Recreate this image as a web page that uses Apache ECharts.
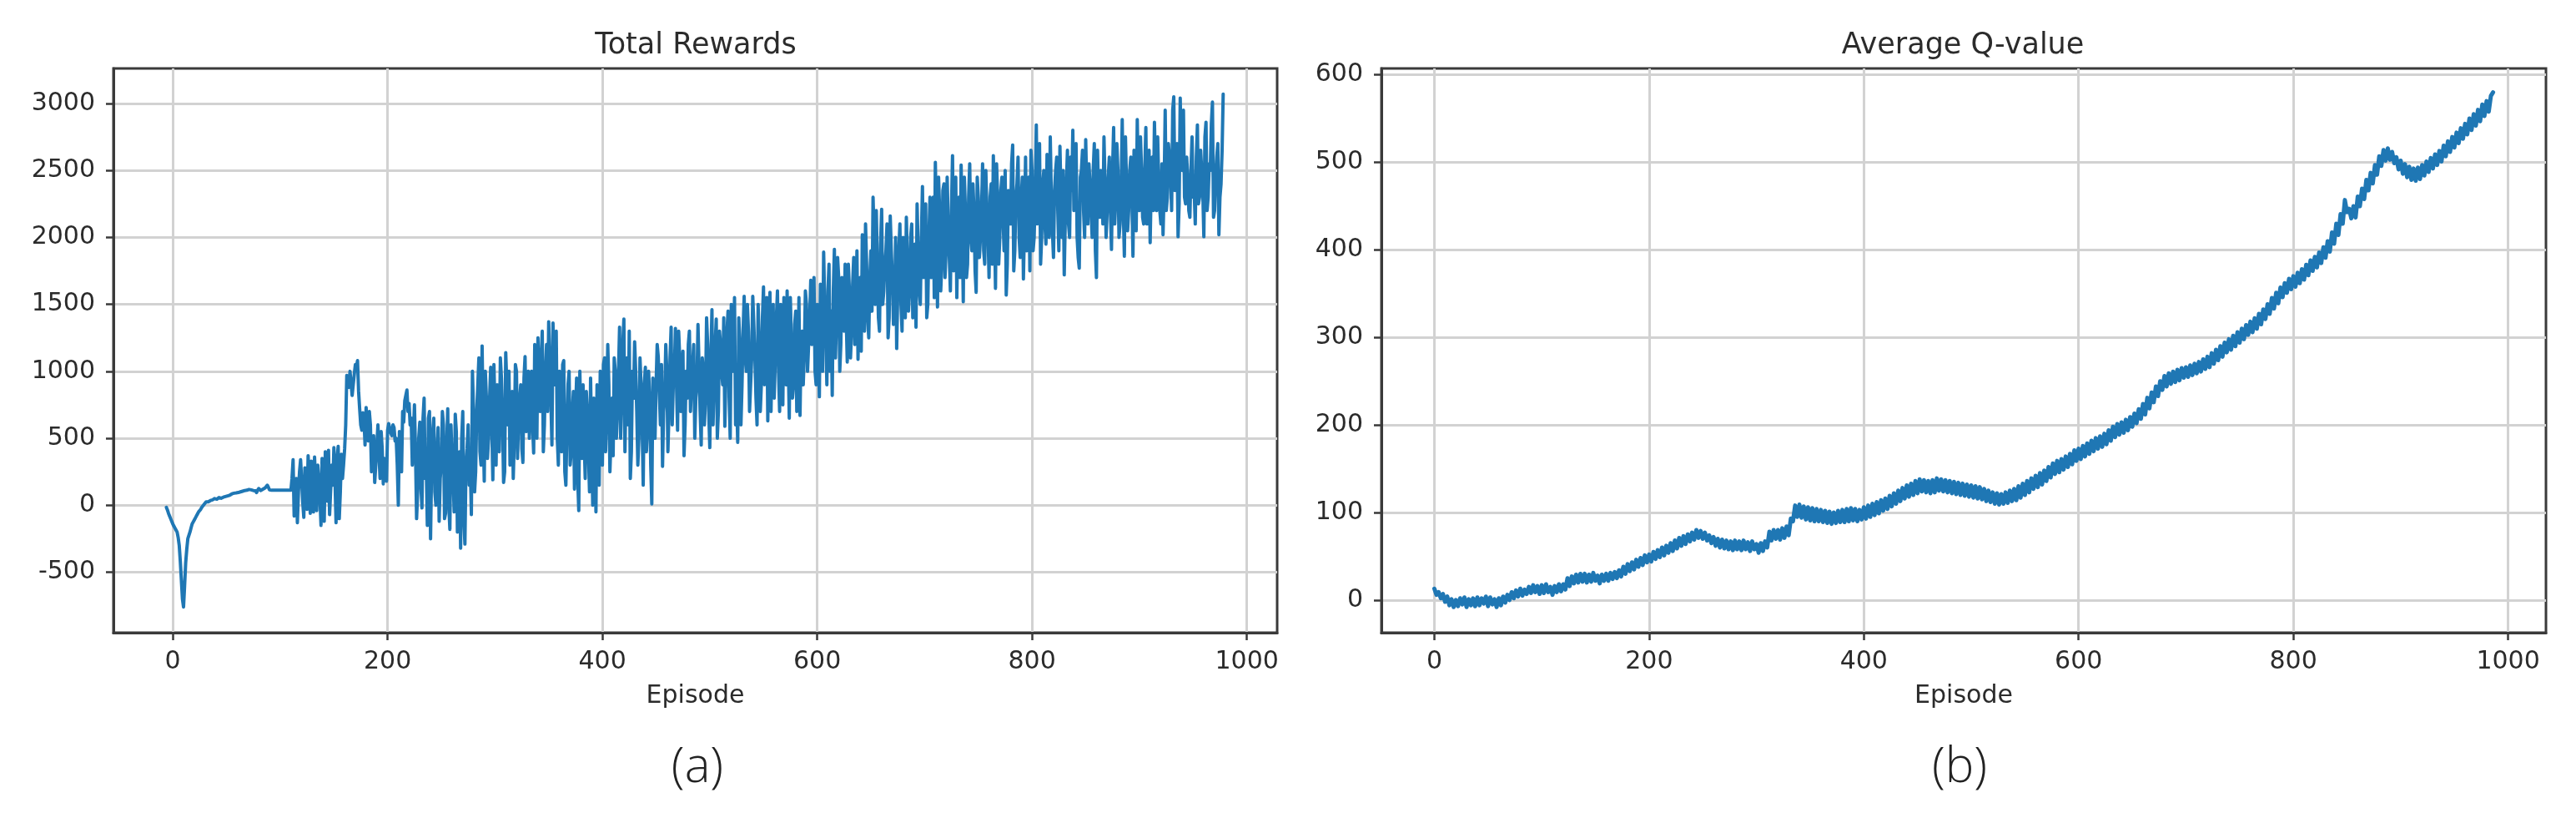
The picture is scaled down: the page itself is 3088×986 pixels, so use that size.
<!DOCTYPE html>
<html><head><meta charset="utf-8">
<script src="https://cdn.jsdelivr.net/npm/echarts@6/dist/echarts.min.js"></script>
<style>html,body{margin:0;padding:0;background:#fff}#c{width:3088px;height:986px}</style>
</head><body><div id="c"></div>
<script>
// ---------- data ----------
const titles = ['Total Rewards', 'Average Q-value'];
const xAxisName = 'Episode';
const captions = ['(a)', '(b)'];
const xTicks = [0, 200, 400, 600, 800, 1000];
const rewardTicks = [-500, 0, 500, 1000, 1500, 2000, 2500, 3000];
const qTicks = [0, 100, 200, 300, 400, 500, 600];

// Total rewards: even episodes -6, -4, ..., 978
const rewardStartEpisode = -6;
const rewardEvenValues = [
  -15, -60, -100, -140, -170, -200, -300, -560, -760, -430,
  -250, -200, -140, -110, -80, -50, -30, -5, 15, 30,
  20, 45, 40, 55, 50, 60, 45, 70, 60, 80,
  75, 95, 80, 100, 85, 110, 95, 120, 100, 125,
  105, 120, 95, 125, 110, 120, 130, 150, 115, 112,
  112, 112, 112, 112, 112, 112, 112, 112, 112, 340,
  60, -130, 250, 330, -90, 150, 370, -60, 120, 360,
  -40, 200, -150, 100, 400, 30, -70, 300, 430, -130,
  440, 100, 200, 420, 970, 880, 1000, 900, 1050, 1080,
  720, 560, 650, 730, 480, 600, 350, 170, 450, 380,
  550, 160, 300, 560, 620, 520, 580, 500, 0, 450,
  700, 780, 860, 760, 650, 520, 400, 100, 620, -20,
  800, 300, 650, -250, 550, 100, 400, -120, 300, 600,
  -60, 720, -180, 350, -50, 550, 100, -320, 700, -290,
  420, 150, -70, 700, 250, 900, 400, 1190, 180, 800,
  500, 1030, 190, 700, 900, 400, 950, 170, 1140, 600,
  300, 850, 500, 1000, 650, 900, 320, 1110, 700, 500,
  1000, 390, 1150, 1250, 700, 1300, 600, 1200, 1370, 800,
  1360, 1100, 500, 1000, 400, 1080, 150, 900, 300, 700,
  120, 950, -40, 600, 900, 200, 700, 100, 450, 800,
  -50, 500, 1000, 300, 1100, 700, 900, 500, 370, 1000,
  700, 1330, 800, 1390, 900, 600, 200, 1000, 1220, 700,
  500, 900, 150, 1030, 600, 800, 10, 700, 900, 1110,
  600, 290, 800, 1000, 700, 1330, 900, 1320, 560, 1100,
  800, 370, 1000, 1200, 700, 1050, 500, 900, 1360, 450,
  1000, 800, 1200, 430, 1460, 900, 1390, 700, 1200, 900,
  590, 1300, 800, 1500, 1000, 600, 470, 1200, 900, 1560,
  1000, 1300, 700, 1560, 1100, 600, 1200, 900, 1630, 1000,
  630, 1590, 1200, 800, 1400, 1000, 1500, 750, 1300, 1600,
  650, 1200, 900, 1450, 1000, 670, 1300, 1140, 1500, 1200,
  1680, 1300, 1000, 1500, 810, 1400, 1890, 1300, 1600, 1000,
  820, 1910, 1400, 1700, 1200, 1500, 1800, 1070, 1600, 1300,
  1850, 1400, 1090, 1700, 2020, 1300, 1800, 1250, 1900, 2300,
  1500, 1800, 1300, 2210, 1600, 1900, 1250, 2160, 1700, 1400,
  1170, 1900, 1500, 2000, 1400, 1800, 1600, 2100, 1700, 1330,
  1900, 1500, 2380, 1800, 1400, 2000, 1700, 2300, 2560, 1480,
  2200, 1800, 2400, 1900, 2100, 1600, 2610, 2000, 1550, 2300,
  2540, 1520, 2200, 1800, 2550, 1900, 2200, 1590, 2300, 2000,
  2550, 1800, 2200, 1700, 2400, 2610, 1620, 2300, 2000, 2450,
  1900, 1570, 2350, 2100, 2690, 1900, 2400, 2000, 2300, 1690,
  2600, 2200, 1750, 2500, 2000, 2840, 2200, 1800, 2400, 2100,
  2620, 2000, 2300, 1850, 2500, 2200, 2680, 2000, 1720, 2400,
  2100, 2600, 2800, 2300, 2000, 1770, 2500, 2200, 2730, 2100,
  2400, 2000, 2700, 1700, 2300, 2500, 2100, 2400, 2200, 2600,
  1910, 2820, 2300, 2500, 2100, 2880, 1860, 2400, 2200, 2600,
  1860, 2350, 2880, 2200, 2500, 2100, 2820, 2300, 1960, 2600,
  2860, 2200, 2400, 2100, 2020, 2950, 2300, 2600, 2200, 3050,
  2400, 2005, 3040, 2500, 2300, 2600, 2200, 2500, 2300, 2100,
  2840, 2300, 2500, 2005, 2860, 2300, 2500, 3010, 2200, 2600,
  2020, 2400, 3070
];
// Total rewards: odd episodes -5, -3, ..., 977
const rewardOddValues = [
  -35, -80, -120, -155, -185, -240, -420, -700, -600, -330,
  -225, -170, -125, -95, -65, -40, -15, 5, 25, 25,
  35, 40, 50, 45, 58, 52, 60, 65, 70, 75,
  85, 90, 92, 95, 100, 105, 110, 112, 118, 115,
  110, 108, 112, 115, 118, 125, 140, 135, 112, 112,
  112, 112, 112, 112, 112, 112, 112, 112, 200, -80,
  200, 100, 340, 20, 280, -30, 200, 330, -50, 150,
  300, 60, 350, -120, 220, 410, -60, 150, 200, 350,
  -100, 380, 300, 600, 930, 1000, 820, 980, 1030, 850,
  600, 690, 450, 560, 700, 250, 520, 300, 600, 200,
  420, 350, 180, 610, 540, 600, 480, 300, 550, 250,
  620, 820, 700, 600, 300, 750, -100, 500, 150, 650,
  200, -150, 700, 300, 650, 0, 580, 200, 700, -100,
  450, 0, 600, 200, 680, -200, 400, 500, -100, 300,
  600, 300, 1000, 100, 700, 1100, 300, 600, 1000, 350,
  800, 600, 1050, 300, 500, 1100, 650, 250, 900, 1000,
  700, 200, 1050, 350, 800, 420, 950, 550, 1000, 800,
  600, 1200, 500, 900, 1100, 400, 1000, 700, 1100, 450,
  900, 1300, 300, 700, 1050, 250, 600, 1000, 400, 850,
  700, 200, 1000, 350, 500, 850, 400, 950, 0, 600,
  900, 150, 700, 1050, 400, 1200, 250, 800, 1100, 500,
  1000, 500, 1200, 400, 1100, 1300, 400, 800, 1000, 300,
  1100, 600, 900, 400, 1000, 300, 950, 500, 1200, 850,
  1050, 700, 1200, 400, 1100, 600, 1000, 900, 1300, 700,
  1150, 600, 800, 1300, 900, 1200, 800, 1350, 700, 1100,
  600, 1400, 700, 1100, 600, 1200, 500, 1300, 1000, 1400,
  1000, 1450, 500, 1300, 1550, 800, 1400, 600, 1300, 1100,
  1500, 700, 1100, 1350, 800, 1500, 700, 1400, 900, 1550,
  1300, 700, 1500, 1100, 1600, 700, 1200, 1550, 900, 1100,
  1550, 800, 1350, 700, 1550, 1200, 900, 1600, 1000, 1400,
  1200, 1700, 900, 1200, 1650, 1000, 1500, 900, 1800, 1450,
  1600, 1100, 1850, 1000, 1700, 1300, 1400, 1800, 1100, 1650,
  1200, 1900, 1500, 1150, 1600, 2100, 1400, 1700, 1450, 2000,
  2200, 1400, 1950, 1500, 1800, 2100, 1400, 1900, 1350, 2000,
  1600, 2100, 1300, 1750, 2150, 1450, 2000, 1400, 1950, 2250,
  1600, 2000, 1700, 2250, 1500, 2300, 1900, 1550, 2100, 2450,
  1600, 2350, 1700, 2450, 1850, 2200, 1750, 2450, 2100, 1700,
  2100, 2450, 1700, 2300, 2000, 2400, 1750, 2450, 1850, 2200,
  1900, 2500, 2050, 2300, 1800, 2150, 2550, 1800, 2350, 2150,
  2500, 1800, 2200, 2550, 1750, 2300, 2600, 1850, 2450, 2100,
  1900, 2450, 2650, 1900, 2350, 2100, 2700, 2000, 2500, 1950,
  2400, 2750, 2050, 2350, 2600, 1900, 2300, 2500, 2150, 2650,
  2000, 2350, 2200, 2700, 1850, 2450, 2650, 2000, 2350, 2550,
  2200, 2500, 1900, 2650, 2150, 2350, 2750, 2000, 2450, 2200,
  2500, 2100, 2700, 2000, 2350, 2200, 2750, 2050, 2500, 2300,
  2650, 2050, 2400, 2750, 2150, 2500, 2100, 2650, 2400, 2200,
  2500, 2750, 2200, 2550, 2350, 2200, 2700, 2450, 2950, 2350,
  2700, 2250, 2550, 2950, 2250, 2450, 2150, 2750, 2350, 2600,
  2250, 2650, 2350, 2750, 2200, 2550, 2850, 2150, 2450, 2700,
  2300, 2650
];

// Average Q-value, one value every 2 episodes starting at episode 0
const qStartEpisode = 0;
const qStep = 2;
const qValues = [
  13, 6, 9, 2, 7, -2, 4, -6, 1, -8,
  0, -7, 2, -5, 3, -8, 1, -6, 2, -7,
  3, -6, 2, -4, 4, -7, 3, -5, 1, -8,
  2, -6, 4, -3, 6, 0, 9, 2, 11, 4,
  13, 5, 12, 7, 15, 8, 17, 9, 16, 7,
  17, 8, 18, 9, 15, 6, 16, 9, 18, 10,
  18, 12, 25, 16, 27, 19, 29, 20, 30, 21,
  30, 20, 29, 21, 31, 22, 28, 19, 29, 22,
  30, 22, 31, 24, 32, 25, 34, 27, 38, 30,
  41, 33, 43, 35, 46, 38, 48, 40, 51, 43,
  52, 44, 55, 47, 57, 49, 60, 51, 62, 54,
  65, 56, 68, 59, 71, 62, 73, 64, 75, 67,
  77, 69, 80, 71, 79, 70, 77, 68, 74, 65,
  72, 62, 70, 60, 69, 59, 68, 58, 67, 57,
  68, 58, 67, 57, 68, 58, 66, 56, 67, 58,
  64, 54, 65, 56, 67, 60, 78, 68, 80, 70,
  80, 69, 82, 71, 84, 74, 93, 90, 108, 95,
  109, 94, 107, 92, 106, 91, 105, 90, 104, 90,
  103, 89, 102, 88, 101, 87, 100, 88, 102, 89,
  103, 89, 104, 90, 105, 91, 104, 90, 103, 92,
  106, 93, 108, 95, 110, 97, 112, 99, 114, 102,
  116, 104, 119, 107, 122, 110, 125, 113, 128, 116,
  131, 118, 133, 120, 136, 122, 138, 124, 137, 123,
  136, 122, 137, 123, 139, 125, 138, 124, 137, 123,
  136, 122, 135, 121, 134, 120, 133, 119, 132, 118,
  131, 117, 130, 116, 129, 115, 127, 113, 125, 112,
  123, 110, 122, 109, 121, 110, 123, 111, 125, 113,
  127, 114, 130, 117, 133, 120, 136, 123, 139, 127,
  142, 129, 145, 132, 148, 136, 152, 140, 156, 144,
  159, 146, 161, 149, 164, 152, 167, 155, 171, 159,
  173, 161, 176, 164, 179, 167, 182, 170, 185, 173,
  187, 175, 190, 178, 194, 182, 198, 186, 201, 189,
  203, 191, 206, 194, 209, 198, 213, 202, 218, 207,
  224, 212, 231, 219, 237, 226, 244, 233, 250, 240,
  256, 244, 259, 247, 261, 249, 263, 251, 265, 254,
  266, 255, 268, 257, 270, 259, 272, 261, 275, 264,
  278, 266, 282, 270, 286, 274, 290, 278, 294, 283,
  298, 286, 302, 290, 306, 294, 310, 298, 314, 303,
  318, 306, 322, 310, 327, 315, 332, 321, 338, 327,
  345, 333, 351, 339, 357, 346, 362, 351, 367, 355,
  370, 358, 374, 362, 378, 366, 383, 371, 388, 376,
  392, 380, 397, 385, 403, 391, 410, 398, 420, 407,
  430, 417, 441, 430, 457, 443, 447, 436, 450, 437,
  461, 450, 470, 458, 480, 468, 488, 476, 497, 486,
  507, 496, 514, 502, 516, 503, 512, 499, 506, 492,
  502, 487, 498, 483, 495, 480, 493, 479, 494, 481,
  497, 485, 501, 489, 505, 493, 509, 497, 513, 501,
  519, 507, 524, 512, 529, 517, 534, 522, 539, 527,
  544, 532, 550, 537, 555, 542, 560, 547, 566, 553,
  570, 558, 576, 580
];

// ---------- build chart ----------
const rewardData = [];
for (let i = 0; i < rewardEvenValues.length; i++) {
  rewardData.push([rewardStartEpisode + 2 * i, rewardEvenValues[i]]);
  if (i < rewardOddValues.length) rewardData.push([rewardStartEpisode + 2 * i + 1, rewardOddValues[i]]);
}
const qData = qValues.map((v, i) => [qStartEpisode + i * qStep, v]);

const FONT = "'DejaVu Sans', sans-serif";
const TXT = '#2b2b2b';
const FRAME = '#3a3a3a';
const GRIDC = '#d2d2d2';
const LINE = '#1f77b4';
const plain = v => String(v);

function xAxisCfg(gridIndex, min, max) {
  return {
    type: 'value', gridIndex, min, max,
    name: xAxisName, nameLocation: 'middle', nameGap: 76,
    nameTextStyle: { fontFamily: FONT, fontSize: 30, color: TXT, verticalAlign: 'middle' },
    axisLine: { show: true, onZero: false, lineStyle: { color: FRAME, width: 3 } },
    axisTick: { show: true, inside: false, length: 9, customValues: xTicks, lineStyle: { color: FRAME, width: 2.5 } },
    axisLabel: { show: true, customValues: xTicks, formatter: plain, margin: 20, fontFamily: FONT, fontSize: 30, color: TXT },
    splitLine: { show: true, lineStyle: { color: GRIDC, width: 3 } }
  };
}
function yAxisCfg(gridIndex, min, max, ticks) {
  return {
    type: 'value', gridIndex, min, max,
    axisLine: { show: true, onZero: false, lineStyle: { color: FRAME, width: 3 } },
    axisTick: { show: true, inside: false, length: 9, customValues: ticks, lineStyle: { color: FRAME, width: 2.5 } },
    axisLabel: { show: true, customValues: ticks, formatter: plain, margin: 22, fontFamily: FONT, fontSize: 30, color: TXT },
    splitLine: { show: true, lineStyle: { color: GRIDC, width: 3 } }
  };
}

const chart = echarts.init(document.getElementById('c'), null, { renderer: 'canvas' });
chart.setOption({
  animation: false,
  backgroundColor: '#ffffff',
  grid: [
    { left: 136, top: 82, width: 1395, height: 676, show: true, borderColor: FRAME, borderWidth: 3, backgroundColor: 'transparent' },
    { left: 1656, top: 82, width: 1396, height: 676, show: true, borderColor: FRAME, borderWidth: 3, backgroundColor: 'transparent' }
  ],
  xAxis: [xAxisCfg(0, -55.25, 1028.25), xAxisCfg(1, -49.3, 1035.3)],
  yAxis: [yAxisCfg(0, -951.5, 3261.5, rewardTicks), yAxisCfg(1, -37.3, 607.3, qTicks)],
  series: [
    { type: 'line', xAxisIndex: 0, yAxisIndex: 0, data: rewardData, showSymbol: false, symbol: 'none',
      lineStyle: { color: LINE, width: 4, join: 'round', cap: 'round' }, sampling: null, z: 3 },
    { type: 'line', xAxisIndex: 1, yAxisIndex: 1, data: qData, showSymbol: false, symbol: 'none',
      lineStyle: { color: LINE, width: 5, join: 'round', cap: 'round' }, sampling: null, z: 3 }
  ],
  graphic: [
    { type: 'text', x: 834, y: 55, style: { text: titles[0], fontFamily: FONT, fontSize: 35, fill: TXT, textAlign: 'center', textVerticalAlign: 'middle' } },
    { type: 'text', x: 2353, y: 55, style: { text: titles[1], fontFamily: FONT, fontSize: 35, fill: TXT, textAlign: 'center', textVerticalAlign: 'middle' } },
    { type: 'text', x: 836, y: 920, style: { text: captions[0], fontFamily: "'Open Sans', 'DejaVu Sans', sans-serif", fontWeight: 300, fontSize: 58, fill: '#222', textAlign: 'center', textVerticalAlign: 'middle' } },
    { type: 'text', x: 2349, y: 920, style: { text: captions[1], fontFamily: "'Open Sans', 'DejaVu Sans', sans-serif", fontWeight: 300, fontSize: 58, fill: '#222', textAlign: 'center', textVerticalAlign: 'middle' } }
  ]
});
</script></body></html>
